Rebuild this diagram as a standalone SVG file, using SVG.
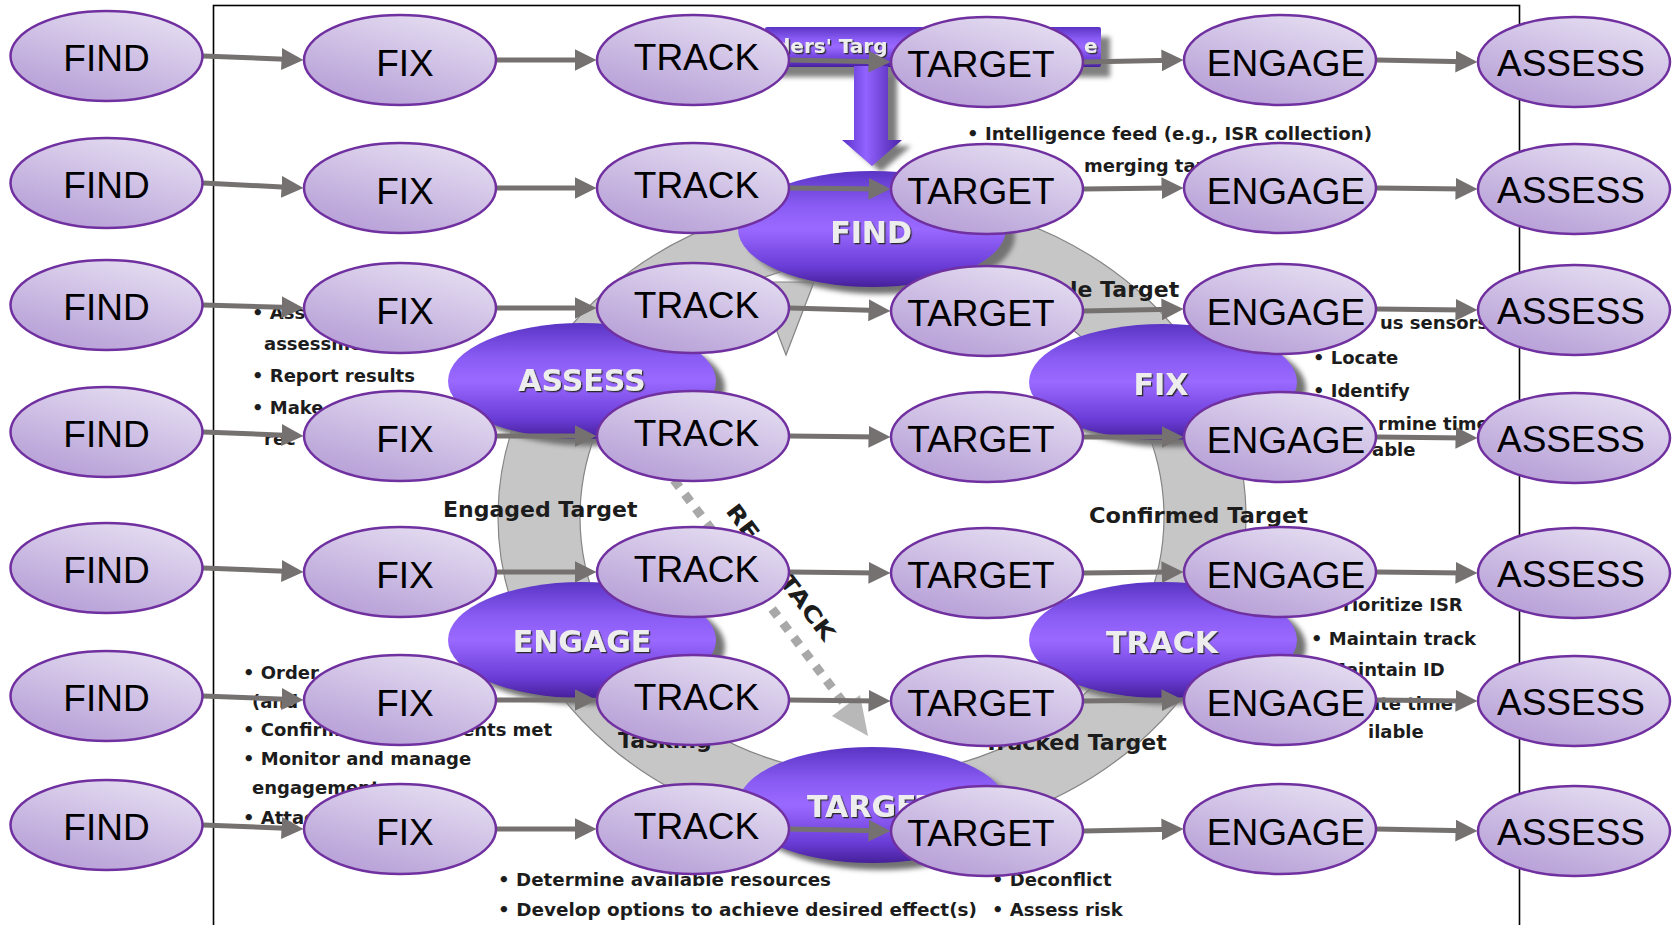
<svg xmlns="http://www.w3.org/2000/svg" width="1675" height="925" viewBox="0 0 1675 925">
<defs>
<linearGradient id="gNode" x1="0.8" y1="0" x2="0.2" y2="1">
<stop offset="0" stop-color="#E6DFF2"/><stop offset="1" stop-color="#B59DD6"/>
</linearGradient>
<linearGradient id="gPhase" x1="0" y1="0" x2="0" y2="1">
<stop offset="0" stop-color="#5A34C4"/><stop offset="0.3" stop-color="#8A5CF5"/><stop offset="0.5" stop-color="#9A69FF"/><stop offset="0.82" stop-color="#6B3DD8"/><stop offset="1" stop-color="#46209A"/>
</linearGradient>
<linearGradient id="gArrow" x1="0" y1="0" x2="1" y2="0">
<stop offset="0" stop-color="#5A30C8"/><stop offset="0.4" stop-color="#9263FF"/><stop offset="1" stop-color="#4A22A8"/>
</linearGradient>
<filter id="blur" x="-20%" y="-20%" width="140%" height="140%"><feGaussianBlur stdDeviation="2.5"/></filter>
<filter id="emboss" x="-10%" y="-20%" width="120%" height="140%"><feDropShadow dx="1.3" dy="1.3" stdDeviation="0.7" flood-color="#2a2a2a"/></filter>
<marker id="arrowhead" markerUnits="userSpaceOnUse" markerWidth="22" markerHeight="22" viewBox="0 0 22 22" refX="10" refY="11" orient="auto">
<path d="M0,0 L22,11 L0,22 z" fill="#767171"/>
</marker>
</defs>
<style>
.node ellipse{fill:url(#gNode);stroke:#7030A0;stroke-width:2.5}
.node text{font-family:"Liberation Sans",Arial,sans-serif;font-size:37px;fill:#000;text-anchor:middle}
.edge{stroke:#767171;stroke-width:5;fill:none;marker-end:url(#arrowhead)}
.bt{font-family:"DejaVu Sans",Verdana,sans-serif;font-weight:bold;font-size:18px;fill:#1c1c1c}
.bl{font-family:"DejaVu Sans",Verdana,sans-serif;font-weight:bold;font-size:22px;fill:#1c1c1c}
.ph{fill:url(#gPhase)}
.phs{fill:#727272;filter:url(#blur)}
.pt{font-family:"DejaVu Sans",Verdana,sans-serif;font-weight:bold;font-size:30px;fill:#EDEDED;text-anchor:middle;filter:url(#emboss)}
.ring{fill:#C6C6C6;stroke:#858585;stroke-width:1.2}
</style>
<rect x="0" y="0" width="1675" height="925" fill="#FFFFFF"/>
<g id="background">
<rect x="213.5" y="5.5" width="1306" height="1000" fill="none" stroke="#000" stroke-width="1.6"/>
<path class="ring" fill-rule="evenodd" d="M498,517 A374,322 0 1,0 1246,517 A374,322 0 1,0 498,517 Z M580,517 A292,258 0 1,0 1164,517 A292,258 0 1,0 580,517 Z"/>
<polygon class="ring" points="758,282 814,282 786,355"/>
<polygon points="863,72 897,72 897,146 911,146 881,172 851,146 863,146" fill="#7a7a7a" filter="url(#blur)"/>
<rect x="774" y="37" width="336" height="40" fill="#808080" filter="url(#blur)"/>
<rect x="765" y="27" width="336" height="40" rx="2" fill="url(#gPhase)"/>
<text class="pt" style="font-size:20px;text-anchor:start" x="776" y="53">ders' Targ</text>
<text class="pt" style="font-size:20px;text-anchor:start" x="1084" y="53">e</text>
<polygon points="854,66 888,66 888,140 902,140 872,166 842,140 854,140" fill="url(#gArrow)"/>
<ellipse class="phs" cx="881" cy="236" rx="134" ry="58"/>
<ellipse class="phs" cx="1172" cy="389" rx="134" ry="58"/>
<ellipse class="phs" cx="1172" cy="647" rx="134" ry="58"/>
<ellipse class="phs" cx="881" cy="812" rx="134" ry="58"/>
<ellipse class="phs" cx="591" cy="647" rx="134" ry="58"/>
<ellipse class="phs" cx="591" cy="388" rx="134" ry="58"/>
<ellipse class="ph" cx="872" cy="229" rx="134" ry="58"/>
<ellipse class="ph" cx="1163" cy="382" rx="134" ry="58"/>
<ellipse class="ph" cx="1163" cy="640" rx="134" ry="58"/>
<ellipse class="ph" cx="872" cy="805" rx="134" ry="58"/>
<ellipse class="ph" cx="582" cy="640" rx="134" ry="58"/>
<ellipse class="ph" cx="582" cy="381" rx="134" ry="58"/>
<text class="pt" x="871" y="243">FIND</text>
<text class="pt" x="1161" y="395">FIX</text>
<text class="pt" x="1162" y="653">TRACK</text>
<text class="pt" x="872" y="817">TARGET</text>
<text class="pt" x="582" y="652">ENGAGE</text>
<text class="pt" x="582" y="391">ASSESS</text>
<line x1="674" y1="480" x2="846" y2="706" stroke="#A8A8A8" stroke-width="9" stroke-dasharray="9 9"/>
<polygon points="832,716 860,695 868,736" fill="#B8B8B8"/>
<text class="bl" transform="translate(781,572) rotate(53)" x="0" y="8" text-anchor="middle" textLength="165" lengthAdjust="spacingAndGlyphs">RE-ATTACK</text>
<text class="bt" x="967" y="140" textLength="405" lengthAdjust="spacingAndGlyphs">• Intelligence feed (e.g., ISR collection)</text>
<text class="bt" x="1084" y="172">merging tar</text>
<text class="bl" x="1070" y="297">le Target</text>
<text class="bt" x="1380" y="329">us sensors</text>
<text class="bt" x="1313" y="364">• Locate</text>
<text class="bt" x="1313" y="397">• Identify</text>
<text class="bt" x="1378" y="430">rmine time</text>
<text class="bt" x="1372" y="456">able</text>
<text class="bl" x="1089" y="523" textLength="219" lengthAdjust="spacingAndGlyphs">Confirmed Target</text>
<text class="bt" x="1343" y="611">rioritize ISR</text>
<text class="bt" x="1311" y="645">• Maintain track</text>
<text class="bt" x="1328" y="676">Maintain ID</text>
<text class="bt" x="1368" y="710">ate time</text>
<text class="bt" x="1368" y="738">ilable</text>
<text class="bl" x="984" y="750">Tracked Target</text>
<text class="bt" x="992" y="886">• Deconflict</text>
<text class="bt" x="992" y="916">• Assess risk</text>
<text class="bt" x="498" y="886" textLength="333" lengthAdjust="spacingAndGlyphs">• Determine available resources</text>
<text class="bt" x="498" y="916" textLength="479" lengthAdjust="spacingAndGlyphs">• Develop options to achieve desired effect(s)</text>
<text class="bl" x="618" y="748">Tasking</text>
<text class="bt" x="243" y="679">• Order</text>
<text class="bt" x="252" y="708">(and</text>
<text class="bt" x="243" y="736">• Confirm</text>
<text class="bt" x="462" y="736">ents met</text>
<text class="bt" x="243" y="765">• Monitor and manage</text>
<text class="bt" x="252" y="794">engagement</text>
<text class="bt" x="243" y="824">• Attack</text>
<text class="bl" x="443" y="517">Engaged Target</text>
<text class="bt" x="252" y="319">• Ass</text>
<text class="bt" x="264" y="350">assessment</text>
<text class="bt" x="252" y="382">• Report results</text>
<text class="bt" x="252" y="414">• Make</text>
<text class="bt" x="264" y="445">rec</text>
</g>
<g id="connectors">
<path class="edge" d="M203,56 L291.5,59.5"/>
<path class="edge" d="M496.5,60 L584.5,60"/>
<path class="edge" d="M789.5,60 L878.5,61.8"/>
<path class="edge" d="M1083.5,62 L1171.5,60.2"/>
<path class="edge" d="M1376.5,60 L1465.5,61.8"/>
<path class="edge" d="M203,183 L291.5,187.4"/>
<path class="edge" d="M496.5,188 L584.5,188"/>
<path class="edge" d="M789.5,188 L878.5,188.9"/>
<path class="edge" d="M1083.5,189 L1171.5,188.1"/>
<path class="edge" d="M1376.5,188 L1465.5,188.9"/>
<path class="edge" d="M203,305 L291.5,307.6"/>
<path class="edge" d="M496.5,308 L584.5,308"/>
<path class="edge" d="M789.5,308 L878.5,310.6"/>
<path class="edge" d="M1083.5,311 L1171.5,309.2"/>
<path class="edge" d="M1376.5,309 L1465.5,309.9"/>
<path class="edge" d="M203,432 L291.5,435.5"/>
<path class="edge" d="M496.5,436 L584.5,436"/>
<path class="edge" d="M789.5,436 L878.5,436.9"/>
<path class="edge" d="M1083.5,437 L1171.5,437"/>
<path class="edge" d="M1376.5,437 L1465.5,437.9"/>
<path class="edge" d="M203,568 L291.5,571.5"/>
<path class="edge" d="M496.5,572 L584.5,572"/>
<path class="edge" d="M789.5,572 L878.5,572.9"/>
<path class="edge" d="M1083.5,573 L1171.5,572.1"/>
<path class="edge" d="M1376.5,572 L1465.5,572.9"/>
<path class="edge" d="M203,696 L291.5,699.5"/>
<path class="edge" d="M496.5,700 L584.5,700"/>
<path class="edge" d="M789.5,700 L878.5,700.9"/>
<path class="edge" d="M1083.5,701 L1171.5,700.1"/>
<path class="edge" d="M1376.5,700 L1465.5,700.9"/>
<path class="edge" d="M203,825 L291.5,828.5"/>
<path class="edge" d="M496.5,829 L584.5,829"/>
<path class="edge" d="M789.5,829 L878.5,830.8"/>
<path class="edge" d="M1083.5,831 L1171.5,829.2"/>
<path class="edge" d="M1376.5,829 L1465.5,830.8"/>
</g>
<g id="find-1" class="node"><ellipse cx="106.5" cy="56" rx="96" ry="45"/><text x="106.5" y="71">FIND</text></g>
<g id="fix-1" class="node"><ellipse cx="400" cy="60" rx="96" ry="45"/><text x="405" y="76">FIX</text></g>
<g id="track-1" class="node"><ellipse cx="693" cy="60" rx="96" ry="45"/><text x="696.5" y="70">TRACK</text></g>
<g id="target-1" class="node"><ellipse cx="987" cy="62" rx="96" ry="45"/><text x="981" y="76.5">TARGET</text></g>
<g id="engage-1" class="node"><ellipse cx="1280" cy="60" rx="96" ry="45"/><text x="1286" y="75.5">ENGAGE</text></g>
<g id="assess-1" class="node"><ellipse cx="1574" cy="62" rx="96" ry="45"/><text x="1571" y="76">ASSESS</text></g>
<g id="find-2" class="node"><ellipse cx="106.5" cy="183" rx="96" ry="45"/><text x="106.5" y="198">FIND</text></g>
<g id="fix-2" class="node"><ellipse cx="400" cy="188" rx="96" ry="45"/><text x="405" y="204">FIX</text></g>
<g id="track-2" class="node"><ellipse cx="693" cy="188" rx="96" ry="45"/><text x="696.5" y="198">TRACK</text></g>
<g id="target-2" class="node"><ellipse cx="987" cy="189" rx="96" ry="45"/><text x="981" y="203.5">TARGET</text></g>
<g id="engage-2" class="node"><ellipse cx="1280" cy="188" rx="96" ry="45"/><text x="1286" y="203.5">ENGAGE</text></g>
<g id="assess-2" class="node"><ellipse cx="1574" cy="189" rx="96" ry="45"/><text x="1571" y="203">ASSESS</text></g>
<g id="find-3" class="node"><ellipse cx="106.5" cy="305" rx="96" ry="45"/><text x="106.5" y="320">FIND</text></g>
<g id="fix-3" class="node"><ellipse cx="400" cy="308" rx="96" ry="45"/><text x="405" y="324">FIX</text></g>
<g id="track-3" class="node"><ellipse cx="693" cy="308" rx="96" ry="45"/><text x="696.5" y="318">TRACK</text></g>
<g id="target-3" class="node"><ellipse cx="987" cy="311" rx="96" ry="45"/><text x="981" y="325.5">TARGET</text></g>
<g id="engage-3" class="node"><ellipse cx="1280" cy="309" rx="96" ry="45"/><text x="1286" y="324.5">ENGAGE</text></g>
<g id="assess-3" class="node"><ellipse cx="1574" cy="310" rx="96" ry="45"/><text x="1571" y="324">ASSESS</text></g>
<g id="find-4" class="node"><ellipse cx="106.5" cy="432" rx="96" ry="45"/><text x="106.5" y="447">FIND</text></g>
<g id="fix-4" class="node"><ellipse cx="400" cy="436" rx="96" ry="45"/><text x="405" y="452">FIX</text></g>
<g id="track-4" class="node"><ellipse cx="693" cy="436" rx="96" ry="45"/><text x="696.5" y="446">TRACK</text></g>
<g id="target-4" class="node"><ellipse cx="987" cy="437" rx="96" ry="45"/><text x="981" y="451.5">TARGET</text></g>
<g id="engage-4" class="node"><ellipse cx="1280" cy="437" rx="96" ry="45"/><text x="1286" y="452.5">ENGAGE</text></g>
<g id="assess-4" class="node"><ellipse cx="1574" cy="438" rx="96" ry="45"/><text x="1571" y="452">ASSESS</text></g>
<g id="find-5" class="node"><ellipse cx="106.5" cy="568" rx="96" ry="45"/><text x="106.5" y="583">FIND</text></g>
<g id="fix-5" class="node"><ellipse cx="400" cy="572" rx="96" ry="45"/><text x="405" y="588">FIX</text></g>
<g id="track-5" class="node"><ellipse cx="693" cy="572" rx="96" ry="45"/><text x="696.5" y="582">TRACK</text></g>
<g id="target-5" class="node"><ellipse cx="987" cy="573" rx="96" ry="45"/><text x="981" y="587.5">TARGET</text></g>
<g id="engage-5" class="node"><ellipse cx="1280" cy="572" rx="96" ry="45"/><text x="1286" y="587.5">ENGAGE</text></g>
<g id="assess-5" class="node"><ellipse cx="1574" cy="573" rx="96" ry="45"/><text x="1571" y="587">ASSESS</text></g>
<g id="find-6" class="node"><ellipse cx="106.5" cy="696" rx="96" ry="45"/><text x="106.5" y="711">FIND</text></g>
<g id="fix-6" class="node"><ellipse cx="400" cy="700" rx="96" ry="45"/><text x="405" y="716">FIX</text></g>
<g id="track-6" class="node"><ellipse cx="693" cy="700" rx="96" ry="45"/><text x="696.5" y="710">TRACK</text></g>
<g id="target-6" class="node"><ellipse cx="987" cy="701" rx="96" ry="45"/><text x="981" y="715.5">TARGET</text></g>
<g id="engage-6" class="node"><ellipse cx="1280" cy="700" rx="96" ry="45"/><text x="1286" y="715.5">ENGAGE</text></g>
<g id="assess-6" class="node"><ellipse cx="1574" cy="701" rx="96" ry="45"/><text x="1571" y="715">ASSESS</text></g>
<g id="find-7" class="node"><ellipse cx="106.5" cy="825" rx="96" ry="45"/><text x="106.5" y="840">FIND</text></g>
<g id="fix-7" class="node"><ellipse cx="400" cy="829" rx="96" ry="45"/><text x="405" y="845">FIX</text></g>
<g id="track-7" class="node"><ellipse cx="693" cy="829" rx="96" ry="45"/><text x="696.5" y="839">TRACK</text></g>
<g id="target-7" class="node"><ellipse cx="987" cy="831" rx="96" ry="45"/><text x="981" y="845.5">TARGET</text></g>
<g id="engage-7" class="node"><ellipse cx="1280" cy="829" rx="96" ry="45"/><text x="1286" y="844.5">ENGAGE</text></g>
<g id="assess-7" class="node"><ellipse cx="1574" cy="831" rx="96" ry="45"/><text x="1571" y="845">ASSESS</text></g>
</svg>
